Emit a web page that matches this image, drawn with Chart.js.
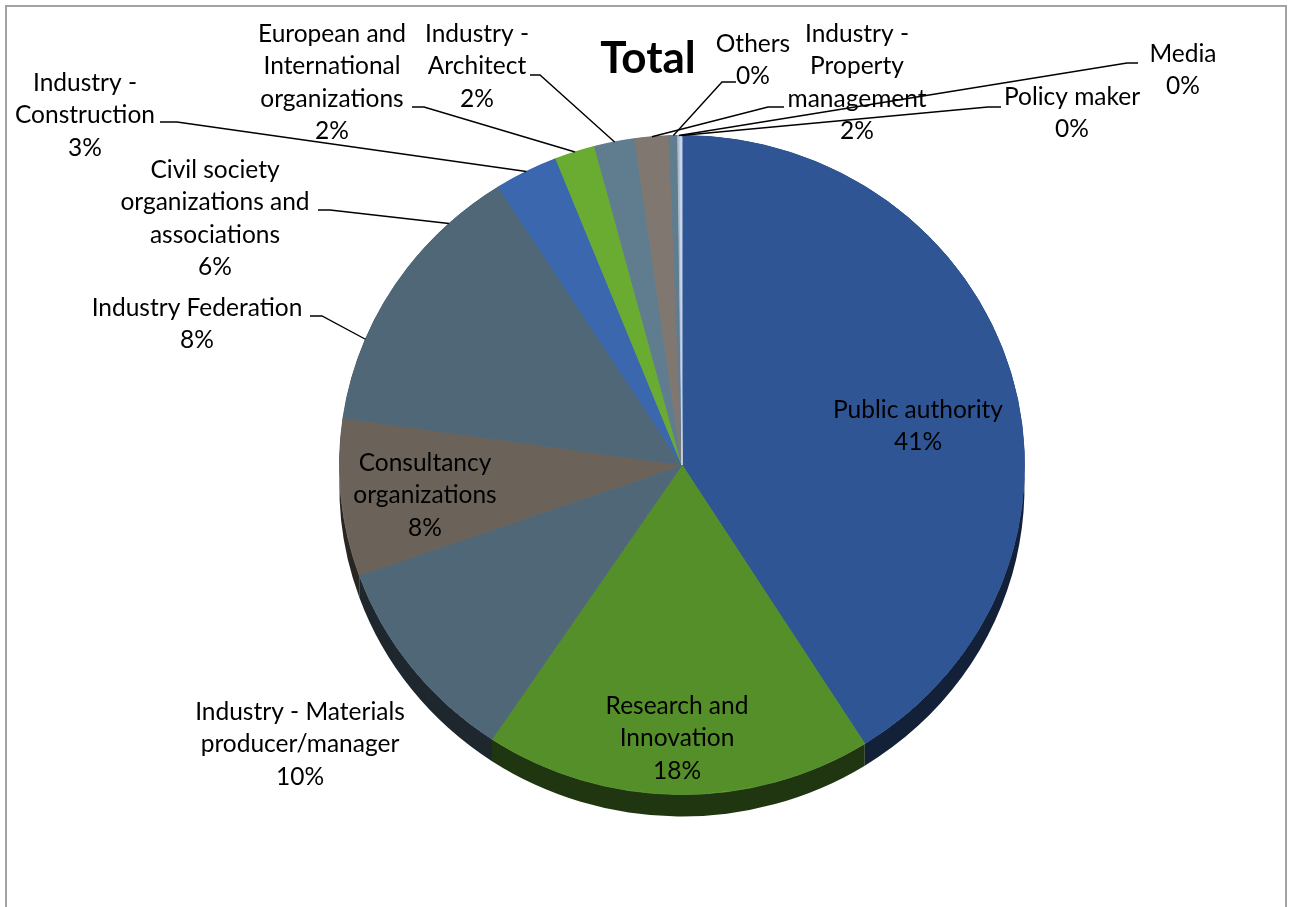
<!DOCTYPE html>
<html>
<head>
<meta charset="utf-8">
<script src="https://cdn.jsdelivr.net/npm/chart.js@4.4.1/dist/chart.umd.min.js"></script>
<style>
    html, body { margin: 0; padding: 0; background: #fff; overflow: hidden; }
    #frame { position: absolute; left: 5px; top: 5px; width: 1282px; height: 960px; border: 2px solid #a3a3a3; box-sizing: border-box; }
    #pie { position: absolute; left: 0; top: 0; }
</style>
</head>
<body>
<div id="frame"></div>
<canvas id="pie" width="1291" height="907"></canvas>
<script>
// data (clockwise from 12 o'clock)
const categories = [
    'Public authority',
    'Research and\nInnovation',
    'Industry - Materials\nproducer/manager',
    'Consultancy\norganizations',
    'Industry Federation',
    'Civil society\norganizations and\nassociations',
    'Industry -\nConstruction',
    'European and\nInternational\norganizations',
    'Industry -\nArchitect',
    'Industry -\nProperty\nmanagement',
    'Others',
    'Media',
    'Policy maker'
];
const shares = [41.0, 18.3, 10.2, 7.7, 7.9, 5.8, 3.0, 1.9, 1.9, 1.6, 0.4, 0.1, 0.1];
const sliceColors = [
    '#2f5594', '#548f2a', '#506778', '#6b635a', '#506778', '#506778', '#3a67ae',
    '#6aac32', '#607c8f', '#807770', '#607c8f', '#a9bcd6', '#c8d6e8'
];
const chartTitle = 'Total';

// label placement (text centre of first line, optional leader: [textEdgeX, elbowX, y])
const labelLayout = [
    { x: 918, y: 410 },
    { x: 677, y: 706 },
    { x: 300, y: 712 },
    { x: 425, y: 463 },
    { x: 197, y: 308, lead: [310, 322, 316] },
    { x: 215, y: 170, lead: [318, 330, 210] },
    { x: 85,  y: 83,  lead: [160, 177, 122] },
    { x: 332, y: 34,  lead: [412, 424, 107] },
    { x: 477, y: 34,  lead: [530, 540, 75] },
    { x: 857, y: 34,  lead: [784, 768, 107] },
    { x: 753, y: 44,  lead: [736, 722, 82] },
    { x: 1183, y: 54, lead: [1138, 1127, 63] },
    { x: 1072, y: 97, lead: [1001, 988, 107] }
];

const SCALE_Y = 330 / 343;   // flatten the pie a little
const DEPTH = 22;            // height of the 3d rim
const LINE_H = 32.5;
const FONT = '24.5px Lato, "Open Sans", sans-serif';

function shade(hex, f) {
    const n = parseInt(hex.slice(1), 16);
    const r = Math.round(((n >> 16) & 255) * f);
    const g = Math.round(((n >> 8) & 255) * f);
    const b = Math.round((n & 255) * f);
    return `rgb(${r},${g},${b})`;
}

const pie3d = {
    id: 'pie3d',
    beforeDatasetsDraw(chart) {
        const ctx = chart.ctx;
        const arcs = chart.getDatasetMeta(0).data;
        const cx = arcs[0].x, cy = arcs[0].y;
        ctx.save();
        ctx.translate(cx, cy);
        ctx.scale(1, SCALE_Y);
        ctx.translate(-cx, -cy);
        // side of the disc
        arcs.forEach((a, i) => {
            const r = a.outerRadius;
            ctx.fillStyle = shade(sliceColors[i], 0.38);
            ctx.beginPath();
            ctx.arc(a.x, a.y, r, a.startAngle, a.endAngle);
            ctx.arc(a.x, a.y + DEPTH / SCALE_Y, r, a.endAngle, a.startAngle, true);
            ctx.closePath();
            ctx.fill();
        });
    },
    afterDatasetsDraw(chart) {
        const ctx = chart.ctx;
        ctx.restore();

        const arcs = chart.getDatasetMeta(0).data;
        const total = shares.reduce((s, v) => s + v, 0);

        // leader lines
        ctx.save();
        ctx.strokeStyle = '#000';
        ctx.lineWidth = 1.4;
        arcs.forEach((a, i) => {
            const lay = labelLayout[i];
            if (!lay.lead) return;
            const mid = (a.startAngle + a.endAngle) / 2;
            const px = a.x + a.outerRadius * Math.cos(mid);
            const py = a.y + a.outerRadius * Math.sin(mid) * SCALE_Y;
            ctx.beginPath();
            ctx.moveTo(lay.lead[0], lay.lead[2]);
            ctx.lineTo(lay.lead[1], lay.lead[2]);
            ctx.lineTo(px, py);
            ctx.stroke();
        });

        // label text
        ctx.fillStyle = '#000';
        ctx.font = FONT;
        ctx.textAlign = 'center';
        ctx.textBaseline = 'middle';
        categories.forEach((name, i) => {
            const lay = labelLayout[i];
            const lines = name.split('\n');
            lines.push(Math.round(shares[i] / total * 100) + '%');
            lines.forEach((t, k) => ctx.fillText(t, lay.x, lay.y + k * LINE_H));
        });

        // title
        ctx.font = 'bold 44px Lato, "Open Sans", sans-serif';
        ctx.fillText(chartTitle, 648, 59);
        ctx.restore();
    }
};

new Chart(document.getElementById('pie'), {
    type: 'pie',
    data: {
        labels: categories,
        datasets: [{
            data: shares,
            backgroundColor: sliceColors,
            borderColor: sliceColors,
            borderWidth: 1
        }]
    },
    options: {
        responsive: false,
        animation: false,
        events: [],
        layout: { padding: { top: 122, bottom: 99, left: 173, right: 100 } },
        plugins: {
            legend: { display: false },
            tooltip: { enabled: false },
            title: { display: false }
        }
    },
    plugins: [pie3d]
});
</script>
</body>
</html>
